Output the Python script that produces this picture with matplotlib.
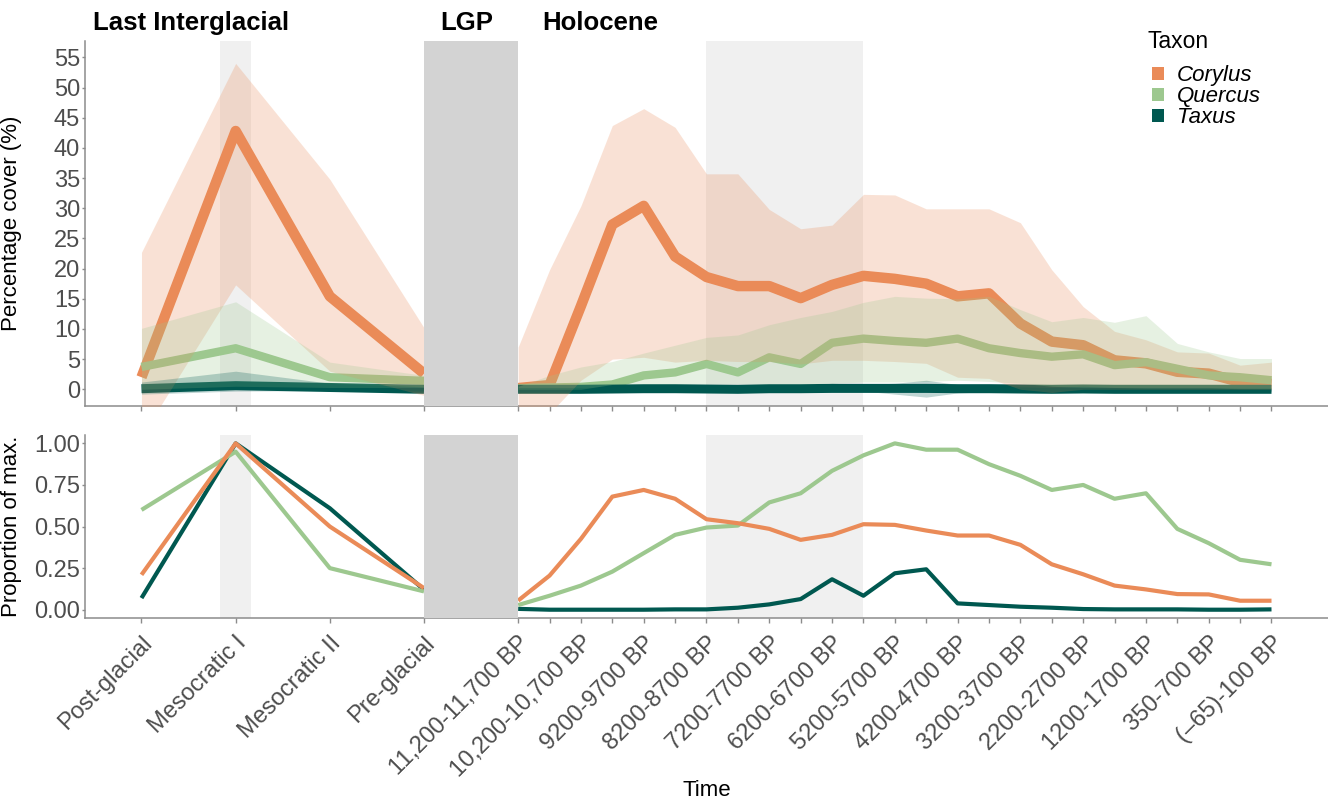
import numpy as np
import matplotlib
matplotlib.use("Agg")
import matplotlib.pyplot as plt
from matplotlib.patches import Patch

plt.rcParams['font.family'] = ['Liberation Sans', 'DejaVu Sans']

# categories
li_labels = ["Post-glacial", "Mesocratic I", "Mesocratic II", "Pre-glacial"]
holo_bins = ["11,200-11,700 BP", "10,700-11,200 BP", "10,200-10,700 BP", "9700-10,200 BP",
             "9200-9700 BP", "8700-9200 BP", "8200-8700 BP", "7700-8200 BP",
             "7200-7700 BP", "6700-7200 BP", "6200-6700 BP", "5700-6200 BP",
             "5200-5700 BP", "4700-5200 BP", "4200-4700 BP", "3700-4200 BP",
             "3200-3700 BP", "2700-3200 BP", "2200-2700 BP", "1700-2200 BP",
             "1200-1700 BP", "700-1200 BP", "350-700 BP", "100-350 BP", "(\u201365)-100 BP"]

taxa = ["Corylus", "Quercus", "Taxus"]
colors = {"Corylus": "#EA8B58", "Quercus": "#9DC88F", "Taxus": "#005850"}

# percentage cover, last interglacial (mean, upper, lower)
cor_li = [2.0, 42.8, 15.4, 2.6]
cor_li_hi = [22.7, 54.0, 34.8, 10.2]
cor_li_lo = [-7.8, 17.3, 3.0, -1.0]
que_li = [3.7, 6.8, 2.0, 1.4]
que_li_hi = [10.1, 14.5, 4.5, 2.3]
que_li_lo = [0.0, 0.5, 0.3, 0.3]
tax_li = [0.1, 0.6, 0.3, 0.0]
tax_li_hi = [1.2, 3.0, 1.0, 0.4]
tax_li_lo = [-0.8, -0.3, -0.2, -0.3]

# percentage cover, holocene
cor_h = [0.2, 0.7, 13.8, 27.3, 30.4, 22.0, 18.6, 17.1, 17.1, 15.1, 17.3, 18.8, 18.3,
         17.5, 15.4, 15.9, 10.9, 7.9, 7.3, 4.8, 4.3, 2.9, 2.6, 1.2, 0.9]
cor_h_hi = [7.0, 19.8, 30.4, 43.7, 46.5, 43.4, 35.7, 35.7, 29.8, 26.6, 27.2, 32.3, 32.2,
            29.9, 29.9, 29.9, 27.6, 19.8, 13.7, 9.6, 8.2, 6.2, 6.0, 4.0, 4.5]
cor_h_lo = [-8.0, -4.0, 1.5, 5.0, 5.3, 4.5, 4.8, 4.6, 4.6, 4.2, 4.8, 4.8, 4.6,
            4.3, 2.0, 1.8, 0.0, -0.5, 0.0, 0.0, 0.0, 0.0, 0.0, 0.0, 0.0]
que_h = [0.2, 0.3, 0.4, 0.8, 2.3, 2.8, 4.2, 2.8, 5.3, 4.2, 7.7, 8.4, 8.0,
         7.7, 8.4, 6.8, 6.0, 5.4, 5.8, 4.0, 4.5, 3.4, 2.3, 2.0, 1.5]
que_h_hi = [0.5, 2.3, 3.7, 4.6, 6.0, 7.3, 8.6, 9.0, 10.7, 11.9, 12.9, 14.4, 15.4,
            15.1, 15.0, 15.4, 13.2, 11.2, 11.9, 11.1, 12.2, 7.6, 6.2, 5.1, 5.1]
que_h_lo = [0.0, 0.0, 0.0, 0.8, 0.9, 0.9, 0.9, 0.9, 0.9, 0.9, 1.0, 1.2, 1.2,
            1.3, 1.5, 1.3, 1.0, 0.5, 0.3, 0.3, 0.2, 0.2, 0.2, 0.1, 0.1]
tax_h = [0.0, 0.0, 0.0, 0.05, 0.1, 0.1, 0.05, 0.0, 0.1, 0.1, 0.15, 0.15, 0.15,
         0.15, 0.1, 0.1, 0.05, 0.0, 0.05, 0.0, 0.0, 0.0, 0.0, 0.0, 0.0]
tax_h_hi = [0.3, 0.3, 0.3, 0.4, 0.5, 0.5, 0.4, 0.3, 0.6, 0.6, 1.0, 0.8, 1.0,
            1.5, 0.8, 0.5, 0.4, 0.3, 0.5, 0.3, 0.3, 0.3, 0.3, 0.2, 0.2]
tax_h_lo = [-0.5, -0.5, -0.5, -0.5, -0.4, -0.4, -0.5, -0.4, -0.4, -0.4, -0.3, -0.3, -0.8,
            -1.3, -0.6, -0.4, -0.4, -0.4, -0.3, -0.3, -0.3, -0.3, -0.3, -0.3, -0.3]

# proportion of max
cor_p_li = [0.21, 1.0, 0.50, 0.13]
que_p_li = [0.60, 0.95, 0.25, 0.11]
tax_p_li = [0.07, 1.0, 0.61, 0.12]
cor_p_h = [0.055, 0.205, 0.426, 0.68, 0.72, 0.667, 0.544, 0.52, 0.486, 0.42, 0.45, 0.514, 0.51,
           0.476, 0.446, 0.446, 0.39, 0.273, 0.213, 0.145, 0.122, 0.094, 0.092, 0.054, 0.054]
que_p_h = [0.028, 0.084, 0.145, 0.229, 0.34, 0.45, 0.494, 0.506, 0.645, 0.70, 0.835, 0.928, 1.0,
           0.962, 0.962, 0.875, 0.805, 0.72, 0.75, 0.667, 0.70, 0.486, 0.40, 0.30, 0.273]
tax_p_h = [0.005, 0.0, 0.0, 0.0, 0.0, 0.002, 0.002, 0.012, 0.032, 0.064, 0.183, 0.084, 0.219,
           0.243, 0.038, 0.028, 0.018, 0.012, 0.004, 0.002, 0.002, 0.002, 0.0, 0.0, 0.002]

# x positions: interglacial phases 3 units apart, LGP gap, then 500-yr bins
x_li = np.arange(len(li_labels)) * 3
x_h = np.arange(len(holo_bins)) + 12

top = {
    "Corylus": (cor_li, cor_li_hi, cor_li_lo, cor_h, cor_h_hi, cor_h_lo),
    "Quercus": (que_li, que_li_hi, que_li_lo, que_h, que_h_hi, que_h_lo),
    "Taxus": (tax_li, tax_li_hi, tax_li_lo, tax_h, tax_h_hi, tax_h_lo),
}
bottom = {
    "Corylus": (cor_p_li, cor_p_h),
    "Quercus": (que_p_li, que_p_h),
    "Taxus": (tax_p_li, tax_p_h),
}

fig = plt.figure(figsize=(13.28, 7.99), dpi=100)
ax1 = fig.add_axes([0.064, 0.492, 0.936, 0.457])
ax2 = fig.add_axes([0.064, 0.2265, 0.936, 0.229])

tick_color = "#4D4D4D"
axis_color = "#8C8C8C"
fs_tick = 17
fs_lab = 16

for ax in (ax1, ax2):
    ax.axvspan(2.5, 3.5, color="#F0F0F0", lw=0, zorder=0)
    ax.axvspan(18, 23, color="#F0F0F0", lw=0, zorder=0)
    ax.axvspan(9, 12, color="#D3D3D3", lw=0, zorder=10)
    ax.set_xlim(-1.8, 37.8)
    for s in ("top", "right"):
        ax.spines[s].set_visible(False)
    for s in ("left", "bottom"):
        ax.spines[s].set_color(axis_color)
        ax.spines[s].set_linewidth(1.1)
    ax.tick_params(colors=axis_color, labelcolor=tick_color, labelsize=fs_tick,
                   length=3.5, width=1, pad=2)
    ax.tick_params(axis="y", length=2.5, pad=1)
    ax.set_xticks(np.concatenate([x_li, x_h]))
ax2.tick_params(axis="x", pad=6.5)

# top panel: thick mean lines with ribbons above them
lw_top = {"Corylus": 7.5, "Quercus": 6.0, "Taxus": 6.5}
for t in taxa:
    m_li, hi_li, lo_li, m_h, hi_h, lo_h = top[t]
    ax1.plot(x_li, m_li, color=colors[t], lw=lw_top[t], solid_capstyle="butt",
             solid_joinstyle="round", zorder=2 + taxa.index(t) * 0.1)
    ax1.plot(x_h, m_h, color=colors[t], lw=lw_top[t], solid_capstyle="butt",
             solid_joinstyle="round", zorder=2 + taxa.index(t) * 0.1)
for t in taxa:
    m_li, hi_li, lo_li, m_h, hi_h, lo_h = top[t]
    ax1.fill_between(x_li, lo_li, hi_li, color=colors[t], alpha=0.25, lw=0, zorder=3)
    ax1.fill_between(x_h, lo_h, hi_h, color=colors[t], alpha=0.25, lw=0, zorder=3)

ax1.set_ylim(-2.75, 57.75)
ax1.set_yticks(np.arange(0, 56, 5))
ax1.set_xticklabels([])
ax1.set_ylabel("Percentage cover (%)", fontsize=fs_lab)
ax1.yaxis.set_label_coords(-0.051, 0.5)

# bottom panel
for t in ["Taxus", "Quercus", "Corylus"]:
    p_li, p_h = bottom[t]
    ax2.plot(x_li, p_li, color=colors[t], lw=3.0, solid_capstyle="butt", zorder=2)
    ax2.plot(x_h, p_h, color=colors[t], lw=3.0, solid_capstyle="butt", zorder=2)

ax2.set_ylim(-0.05, 1.05)
ax2.set_yticks([0, 0.25, 0.5, 0.75, 1.0])
ax2.set_yticklabels(["0.00", "0.25", "0.50", "0.75", "1.00"])
ax2.set_ylabel("Proportion of max.", fontsize=fs_lab)
ax2.yaxis.set_label_coords(-0.051, 0.5)
shown = [b if i % 2 == 0 else "" for i, b in enumerate(holo_bins)]
ax2.set_xticklabels(li_labels + shown, rotation=45, ha="right", rotation_mode="anchor",
                    fontsize=fs_tick)
ax2.set_xlabel("Time", fontsize=fs_lab, va="center")
ax2.xaxis.set_label_coords(0.5, -0.945)

# period headings
for xp, txt in [(-1.53, "Last Interglacial"), (9.52, "LGP"), (12.77, "Holocene")]:
    ax1.text(xp, 1.048, txt, transform=ax1.get_xaxis_transform(), fontsize=18.5,
             fontweight="bold", ha="left", va="center")

# legend: title placed by hand, keys below
fig.text(1148 / 1328, 1 - 42 / 799, "Taxon", fontsize=16.5, ha="left", va="center")
handles = [Patch(facecolor=colors[t], edgecolor="none") for t in taxa]
leg = fig.legend(handles, taxa, loc="upper left",
                 bbox_to_anchor=(1141 / 1328, 1 - 54 / 799), frameon=False, fontsize=16,
                 handlelength=0.55, handleheight=0.55,
                 handletextpad=0.55, labelspacing=0.0, borderpad=0)
for txt in leg.get_texts():
    txt.set_fontstyle("italic")

fig.savefig("out.png", dpi=100)
